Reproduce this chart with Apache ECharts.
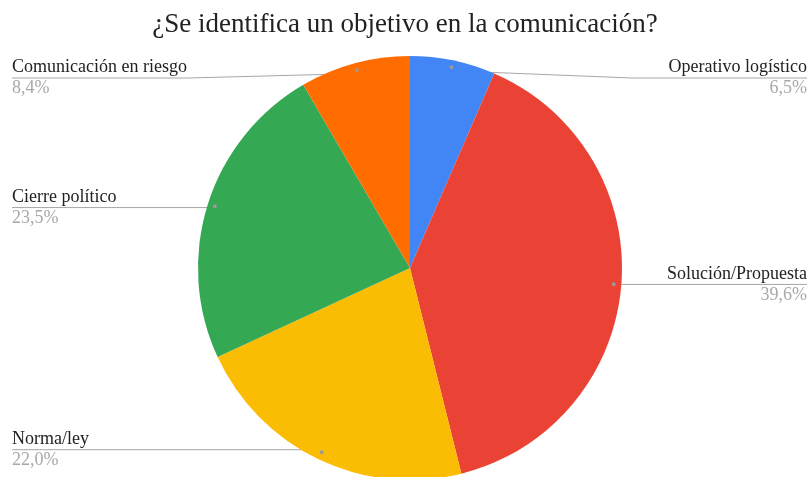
<!DOCTYPE html>
<html>
<head>
<meta charset="utf-8">
<script src="https://cdn.jsdelivr.net/npm/echarts@6/dist/echarts.min.js"></script>
<style>
  html, body { margin: 0; padding: 0; background: #fff; }
  #chart { width: 810px; height: 477px; }
</style>
</head>
<body>
<div id="chart"></div>
<script>
// Objective categories, clockwise from 12 o'clock
const categories = ['Operativo logístico', 'Solución/Propuesta', 'Norma/ley', 'Cierre político', 'Comunicación en riesgo'];
const shares = [6.5, 39.6, 22.0, 23.5, 8.4];
const colors = ['#4285F4', '#EA4335', '#FBBC04', '#34A853', '#FF6D01'];

const CENTER = [410, 268];
const RADIUS = 212;
const DOT_RATIO = 0.95;       // leader lines start just inside the rim
const LABEL_TOP_GAP = 22;     // keeps top labels clear of the title
const LEFT_INSET = 9;
const SERIF = 'Liberation Serif';

const chart = echarts.init(document.getElementById('chart'));

const data = categories.map((name, i) => ({ name: name, value: shares[i], itemStyle: { color: colors[i] } }));

function fmtPct(v) { return v.toFixed(1).replace('.', ',') + '%'; }

chart.setOption({
  animation: false,
  title: {
    text: '¿Se identifica un objetivo en la comunicación?',
    left: 'center',
    top: 6,
    textStyle: { fontFamily: SERIF, fontSize: 27, fontWeight: 'normal', color: '#222' }
  },
  series: [
    {
      type: 'pie',
      center: CENTER,
      radius: RADIUS,
      startAngle: 90,
      clockwise: true,
      data: data,
      itemStyle: { borderWidth: 0 },
      label: {
        alignTo: 'edge',
        edgeDistance: 3,
        formatter: p => '{n|' + p.name + '}\n{p|' + fmtPct(p.value) + '}',
        rich: {
          n: { fontFamily: SERIF, fontSize: 18, color: '#222', lineHeight: 21 },
          p: { fontFamily: SERIF, fontSize: 18, color: '#a8a8a8', lineHeight: 21 }
        }
      },
      labelLine: { show: true, length: 0, length2: 0, smooth: false, lineStyle: { color: '#a6a6a6', width: 1 } },
      labelLayout: function (params) {
        const pts = params.labelLinePoints;
        if (!pts) return {};
        const cx = CENTER[0], cy = CENTER[1];
        const dot = [cx + (pts[0][0] - cx) * DOT_RATIO, cy + (pts[0][1] - cy) * DOT_RATIO];
        const isLeft = params.labelRect.x < chart.getWidth() / 2;
        const y = Math.max(dot[1], cy - RADIUS + LABEL_TOP_GAP);
        const bendX = isLeft ? cx - RADIUS - 10 : cx + RADIUS + 10;
        const out = {};
        let endX;
        if (isLeft) {
          out.x = params.labelRect.x + LEFT_INSET;
          endX = out.x;
        } else {
          endX = params.labelRect.x + params.labelRect.width;
        }
        out.y = y;
        out.labelLinePoints = [dot, [bendX, y], [endX, y]];
        return out;
      },
      emphasis: { disabled: true }
    },
    {
      // small markers where each leader line begins
      type: 'pie',
      center: CENTER,
      radius: [RADIUS * (2 * DOT_RATIO - 1), RADIUS],
      startAngle: 90,
      clockwise: true,
      silent: true,
      data: categories.map((name, i) => ({ name: name, value: shares[i] })),
      itemStyle: { color: 'rgba(0,0,0,0)' },
      label: { position: 'inside', formatter: '●', fontSize: 9, color: '#9a9a9a' },
      labelLine: { show: false },
      emphasis: { disabled: true }
    }
  ]
});
</script>
</body>
</html>
